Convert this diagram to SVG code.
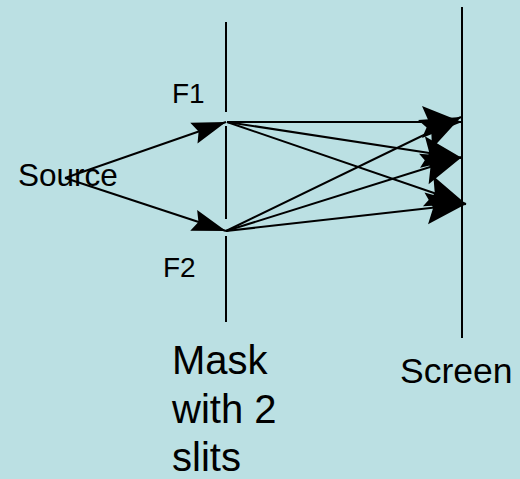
<svg xmlns="http://www.w3.org/2000/svg" width="520" height="479" viewBox="0 0 520 479">
<style>
.t{font-family:"Liberation Sans",Arial,sans-serif;fill:#000}
.bar{stroke:#000;stroke-width:2;fill:none}
.ray{stroke:#000;stroke-width:2;fill:none}
</style>
<defs>
<marker id="sm" markerUnits="userSpaceOnUse" markerWidth="36" markerHeight="24" refX="34" refY="11" orient="auto" overflow="visible">
<path d="M0,0 L34,11 L0,22 L5,11 z" fill="#000"/>
</marker>
<marker id="lg" markerUnits="userSpaceOnUse" markerWidth="42" markerHeight="34" refX="40" refY="16" orient="auto" overflow="visible">
<path d="M0,0 L40,16 L0,32 L7,16 z" fill="#000"/>
</marker>
</defs>
<rect width="520" height="479" fill="#BBE0E3"/>
<g id="source">
<text class="t" x="18" y="186" font-size="31.5">Source</text>
</g>
<g id="mask">
<line class="bar" x1="226" y1="22" x2="226" y2="112"/>
<line class="bar" x1="226" y1="126" x2="226" y2="219"/>
<line class="bar" x1="226" y1="236" x2="226" y2="322"/>
<text class="t" x="172" y="374" font-size="40">Mask</text>
<text class="t" x="172" y="423" font-size="40">with 2</text>
<text class="t" x="172" y="471" font-size="40">slits</text>
</g>
<g id="F1">
<text class="t" x="172" y="103" font-size="28">F1</text>
</g>
<g id="F2">
<text class="t" x="163" y="277" font-size="28">F2</text>
</g>
<g id="screen">
<line class="bar" x1="462" y1="7" x2="462" y2="338"/>
<text class="t" x="400" y="383" font-size="35.5">Screen</text>
</g>
<g id="connectors">
<line class="ray" x1="65" y1="178" x2="226" y2="122" marker-end="url(#sm)"/>
<line class="ray" x1="65" y1="178" x2="226" y2="231" marker-end="url(#sm)"/>
<line class="ray" x1="227" y1="122" x2="462" y2="122" marker-end="url(#lg)"/>
<line class="ray" x1="227" y1="122" x2="462" y2="158" marker-end="url(#lg)"/>
<line class="ray" x1="227" y1="122" x2="466" y2="204" marker-end="url(#lg)"/>
<line class="ray" x1="226" y1="231" x2="461" y2="117" marker-end="url(#lg)"/>
<line class="ray" x1="226" y1="231" x2="462" y2="157" marker-end="url(#lg)"/>
<line class="ray" x1="226" y1="231" x2="466" y2="204" marker-end="url(#lg)"/>
</g>
</svg>
